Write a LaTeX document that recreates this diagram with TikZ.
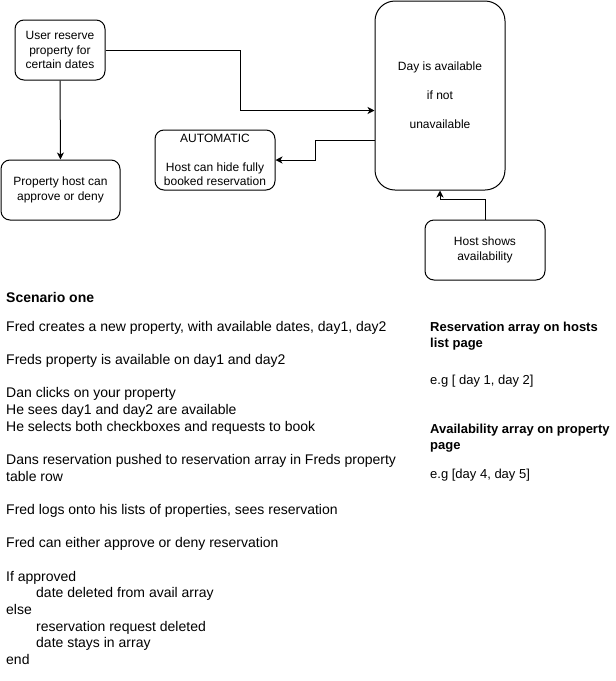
\documentclass[tikz,border=0pt]{standalone}
\usepackage{fontspec}
\setmainfont{Liberation Sans}
\usetikzlibrary{arrows.meta,positioning}

\begin{document}
\begin{tikzpicture}[x=1pt,y=-1pt,
 box/.style={draw,line width=1pt,rounded corners=9pt,align=center,inner sep=0pt,
 font=\fontsize{12}{14.4}\selectfont,minimum width=120pt,minimum height=60pt},
 note/.style={align=left,inner sep=0pt,anchor=north west},
 arr/.style={-{Stealth[length=7pt,width=7pt,inset=2pt]},line width=1pt}]
\useasboundingbox (0,0) rectangle (616,681);
\node[box,minimum width=90pt] (reserve) at (60,50) {User reserve\\property for\\certain dates};
\node[box,minimum width=119pt] (approve) at (60.5,190) {Property host can\\approve or deny};
\node[box] (hide) at (215,160) {AUTOMATIC\\[14.4pt]Host can hide fully\\booked reservation};
\node[box,rounded corners=20pt,minimum width=130pt,minimum height=189pt] (day) at (440,95.5)
 {Day is available\\[14.4pt]if not\\[14.4pt]unavailable};
\node[box] (shows) at (485,250) {Host shows\\availability};
\draw[arr] (reserve.south)--(approve.north);
\draw[arr] (reserve.east)--++(135,0)|-([yshift=-15pt]day.west);
\draw[arr] ([yshift=-45pt]day.west)--++(-59,0)|-(hide.east);
\draw[arr] (shows.north)--++(0,-20)-|(day.south);
\node[anchor=west,inner sep=0pt,font=\fontsize{14}{16.8}\selectfont\bfseries] (title) at (6,297) {Scenario one};
\node[note,font=\fontsize{14}{16.65}\selectfont] (story) at (6,321) {Fred creates a new property, with available dates, day1, day2\\[16.65pt]
Freds property is available on day1 and day2\\[16.65pt]
Dan clicks on your property\\
He sees day1 and day2 are available\\
He selects both checkboxes and requests to book\\[16.65pt]
Dans reservation pushed to reservation array in Freds property\\
table row\\[16.65pt]
Fred logs onto his lists of properties, sees reservation\\[16.65pt]
Fred can either approve or deny reservation\\[16.65pt]
If approved\\
\hspace*{30pt}date deleted from avail array\\
else\\
\hspace*{30pt}reservation request deleted\\
\hspace*{30pt}date stays in array\\
end};
\node[note,font=\fontsize{13}{15.6}\selectfont\bfseries] (reshead) at (430,322) {Reservation array on hosts\\list page};
\node[note,anchor=west,font=\fontsize{13}{15.6}\selectfont] (resex) at (430,381) {e.g [ day 1, day 2]};
\node[note,font=\fontsize{13}{15.6}\selectfont\bfseries] (availhead) at (430,424) {Availability array on property\\page};
\node[note,anchor=west,font=\fontsize{13}{15.6}\selectfont] (availex) at (430,475) {e.g [day 4, day 5]};
\end{tikzpicture}
\end{document}
